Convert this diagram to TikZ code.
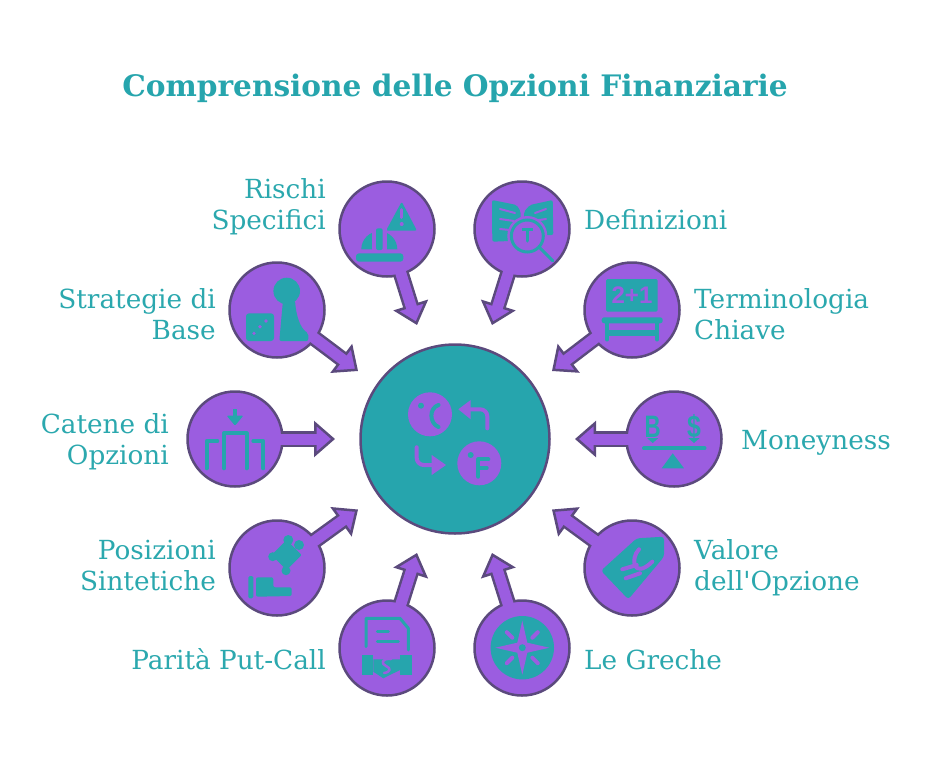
\documentclass[tikz,border=0pt]{standalone}
\usepackage{fontspec}
\setmainfont{DejaVu Serif}
\newfontfamily\iconfont{Liberation Sans}
\usetikzlibrary{positioning}
\usetikzlibrary{arrows.meta}
\definecolor{optpurple}{HTML}{9B5DE0}
\definecolor{optedge}{HTML}{5B4A7D}
\definecolor{optteal}{HTML}{26A5AD}
\definecolor{opttext}{HTML}{2BA8AE}
\tikzset{
    topic/.style={circle, draw=optedge, line width=2.5pt, fill=optpurple, minimum size=95pt, inner sep=0pt},
    hub/.style={circle, draw=optedge, line width=2.5pt, fill=optteal, minimum size=189pt, inner sep=0pt},
    lefttext/.style={anchor=east, align=right, inner sep=0pt, text=opttext, font=\fontsize{26.3}{31}\selectfont},
    righttext/.style={anchor=west, align=left, inner sep=0pt, text=opttext, font=\fontsize{26.3}{31}\selectfont},
    shaftouter/.style={draw=optedge, line width=16pt, shorten <=-2.5pt, -{Triangle[width=36pt,length=21pt,fill=optpurple,line width=2.5pt]}},
    shaftinner/.style={draw=optpurple, line width=11pt, shorten >=16pt},
    tealfill/.style={fill=optteal, draw=none},
    tealline/.style={draw=optteal, line width=4pt, line cap=round, line join=round},
    purplefill/.style={fill=optpurple, draw=none},
    purpleline/.style={draw=optpurple, line width=3.5pt, line cap=round, line join=round}
}
\begin{document}
\begin{tikzpicture}[x=1pt, y=-1pt]
    \useasboundingbox (0,0) rectangle (925,758);
    \node [text=optteal, font=\fontsize{29.6}{36}\bfseries\selectfont] (title) at (455,88) {Comprensione delle Opzioni Finanziarie};

    \node [hub] (hub) at (455,439) {};
    \node [topic] (rischi) at (387,229) {};
    \node [topic] (definizioni) at (522,229) {};
    \node [topic] (strategie) at (277,310) {};
    \node [topic] (terminologia) at (632,310) {};
    \node [topic] (catene) at (235,439) {};
    \node [topic] (moneyness) at (674,439) {};
    \node [topic] (posizioni) at (277,568) {};
    \node [topic] (valore) at (632,568) {};
    \node [topic] (parita) at (387,648) {};
    \node [topic] (greche) at (522,648) {};

    \coordinate (tipRischi) at (417,325);
    \coordinate (tipDefinizioni) at (492,325);
    \coordinate (tipStrategie) at (358,371);
    \coordinate (tipTerminologia) at (552,371);
    \coordinate (tipCatene) at (335,439);
    \coordinate (tipMoneyness) at (575,439);
    \coordinate (tipPosizioni) at (358,509.5);
    \coordinate (tipValore) at (552,509.5);
    \coordinate (tipParita) at (417,553);
    \coordinate (tipGreche) at (492,553);

    \foreach \from/\tip in {rischi/tipRischi, definizioni/tipDefinizioni, strategie/tipStrategie, terminologia/tipTerminologia, catene/tipCatene, moneyness/tipMoneyness, posizioni/tipPosizioni, valore/tipValore, parita/tipParita, greche/tipGreche}
    {
        \draw [shaftouter] (\from) -- (\tip);
        \draw [shaftinner] (\from.center) -- (\tip);
    }

    \node [lefttext] (rischiText) at (326,206.5) {Rischi\\Specifici};
    \node [righttext] (definizioniText) at (584,220) {Definizioni};
    \node [lefttext] (strategieText) at (216,314.5) {Strategie di\\Base};
    \node [righttext] (terminologiaText) at (694,314.5) {Terminologia\\Chiave};
    \node [lefttext] (cateneText) at (169,442) {Catene di\\Opzioni};
    \node [righttext] (moneynessText) at (741,442.5) {Moneyness};
    \node [lefttext] (posizioniText) at (216,565) {Posizioni\\Sintetiche};
    \node [righttext] (valoreText) at (694,568) {Valore\\dell\textquotesingle Opzione};
    \node [lefttext] (paritaText) at (326,659.5) {Parità Put-Call};
    \node [righttext] (grecheText) at (584,660) {Le Greche};

    % hub icon
    \fill [purplefill] (430,414.3) circle (22);
    \fill [purplefill] (479.3,463.3) circle (22);
    \fill [tealfill] (421,405.7) circle (3);
    \fill [tealfill] (470.7,455) circle (3);
    \draw [tealline] (438.5,405) .. controls (429,408) and (429,423) .. (438.5,427);
    \draw [tealline] (488.3,459.3) -- (478.3,459.3) -- (478.3,476.7);
    \draw [tealline] (478.3,468) -- (486.7,468);
    \draw [purpleline, line width=4pt, rounded corners=7pt] (487.3,428.3) -- (487.3,409.3) -- (468,409.3);
    \fill [purplefill] (458.3,409.3) -- (470.7,400) -- (470.7,419.3) -- cycle;
    \draw [purpleline, line width=4pt, rounded corners=7pt] (416.7,447.3) -- (416.7,465) -- (436,465);
    \fill [purplefill] (446,465) -- (431.7,455) -- (431.7,475) -- cycle;

    % rischi icon
    \fill [tealfill, rounded corners=2pt] (401.7,201.7) -- (417,230.7) -- (386,230.7) -- cycle;
    \draw [purpleline, line width=3pt] (401.7,209.5) -- (401.7,217.5);
    \fill [purplefill] (401.7,224) circle (2);
    \fill [tealfill] (361.3,249.3) arc (180:360:18) -- cycle;
    \fill [purplefill] (371.7,228) rectangle (387.3,250);
    \fill [tealfill, rounded corners=2pt] (376,228.3) rectangle (382.7,250);
    \fill [tealfill, rounded corners=3pt] (356,253.3) rectangle (403.3,261.7);

    % definizioni icon
    \fill [tealfill, rounded corners=2pt] (492,200) -- (516.7,205) -- (520.7,211.7) -- (520.7,235) -- (510,241) -- (492.3,241.7) -- cycle;
    \fill [tealfill, rounded corners=2pt] (524,211.7) -- (530,205) -- (552.7,200) -- (553.3,235) -- (524,235) -- cycle;
    \draw [purpleline, line width=2pt] (500,209) -- (515,213);
    \draw [purpleline, line width=2pt] (500,219) -- (514,221);
    \draw [purpleline, line width=2pt] (500,229) -- (510,230);
    \draw [purpleline, line width=2pt] (535,213) -- (546,209);
    \draw [purpleline, line width=2pt] (533,221) -- (546,219);
    \fill [purplefill] (527.3,236) circle (20);
    \draw [draw=optteal, line width=3pt] (527.3,236) circle (16);
    \draw [tealline, line width=3pt, line cap=butt] (521.7,229.5) -- (533.3,229.5);
    \draw [tealline, line width=3pt] (527.3,229.5) -- (527.3,241);
    \draw [tealline, line width=3pt] (539,247) -- (552.7,260.7);

    % strategie icon
    \fill [tealfill, rounded corners=3pt] (246,313.3) rectangle (274,341);
    \fill [purplefill] (266,321) circle (1.8);
    \fill [purplefill] (260,326.7) circle (1.8);
    \fill [purplefill] (254,333.3) circle (1.8);
    \fill [tealfill] (286.7,291) circle (13.3);
    \fill [tealfill, rounded corners=2pt] (283,300) -- (279.3,341) -- (308.3,341) -- (308.3,333.3) .. controls (300,328) and (296,315) .. (295,300) -- cycle;

    % catene icon
    \draw [tealline, line width=4.5pt, line cap=butt] (235,409) -- (235,418);
    \fill [tealfill, rounded corners=1pt] (226.7,415.7) -- (243.3,415.7) -- (235,425.7) -- cycle;
    \draw [tealline] (224,468.3) -- (224,433.3) -- (246.7,433.3) -- (246.7,468.3);
    \draw [tealline] (206.7,468.3) -- (206.7,441) -- (217.3,441);
    \draw [tealline] (263.3,468.3) -- (263.3,441) -- (253.3,441);

    % terminologia icon
    \fill [tealfill, rounded corners=1.5pt] (606,279) rectangle (657.7,311.7);
    \node [text=optpurple, font=\iconfont\fontsize{24}{24}\bfseries\selectfont, inner sep=0pt] (sumText) at (632,295.5) {2+1};
    \fill [tealfill, rounded corners=2.5pt] (601.7,317.3) rectangle (662.7,323.3);
    \draw [tealline] (607.3,323) -- (607.3,339.5);
    \draw [tealline] (657.3,323) -- (657.3,339.5);
    \draw [tealline, line cap=butt, line width=6pt] (607,333) -- (657,333);

    % moneyness icon
    \node [text=optteal, font=\iconfont\fontsize{31}{31}\bfseries\selectfont, inner sep=0pt, xscale=0.72] (bitText) at (652.7,427) {B};
    \node [text=optteal, font=\iconfont\fontsize{31}{31}\bfseries\selectfont, inner sep=0pt, xscale=0.8] (dollarText) at (694,427) {\$};
    \fill [tealfill] (647,438) -- (658.4,438) -- (652.7,443) -- cycle;
    \fill [tealfill] (688.3,438) -- (699.7,438) -- (694,443) -- cycle;
    \draw [tealline] (644,448.3) -- (704.5,448.3);
    \fill [tealfill] (672.7,453.3) -- (684,468.3) -- (661.7,468.3) -- cycle;

    % valore icon
    \fill [tealfill, rounded corners=3pt] (664,536.7) -- (664,556.7) -- (628.3,599.3) -- (601,570.7) -- (636.7,538.3) -- cycle;
    \draw [purpleline, line width=4pt] (639,549.3) .. controls (630,558.3) and (633.3,580) .. (652.3,561.7);
    \draw [purpleline, line width=4pt] (622.3,569.3) -- (636.7,565);
    \draw [purpleline, line width=4pt] (625.7,578.3) -- (640,573.3);

    % greche icon
    \fill [tealfill] (522.3,647.7) circle (31.7);
    \fill [purplefill] (522.3,620.7) -- (527.3,642.7) -- (549.3,647.7) -- (527.3,652.7) -- (522.3,674.7) -- (517.3,652.7) -- (495.3,647.7) -- (517.3,642.7) -- cycle;
    \fill [tealfill] (522.3,647.7) circle (3.5);
    \foreach \dx/\dy in {1/1, 1/-1, -1/1, -1/-1}
    {
        \draw [purpleline, line width=4pt] (522.3+10*\dx,647.7+10*\dy) -- (522.3+15.5*\dx,647.7+15.5*\dy);
    }

    % posizioni icon
    \fill [tealfill, rounded corners=1pt] (286.7,540) -- (301.7,555) -- (286.7,570) -- (271.7,555) -- cycle;
    \fill [tealfill] (299,545) circle (5);
    \fill [tealfill] (288.3,540) circle (5);
    \fill [tealfill] (272.7,556.7) circle (4.5);
    \fill [tealfill] (286,570.7) circle (4.5);
    \fill [tealfill, rounded corners=1.5pt] (248.3,576) rectangle (253.3,598.3);
    \fill [tealfill, rounded corners=2pt] (256,577.3) -- (273.3,577.3) -- (273.3,587.3) -- (291.7,587.3) -- (291.7,596) -- (256,596.7) -- cycle;

    % parita icon
    \draw [tealline, line width=3pt] (366,646.7) -- (366,618.3) -- (400,618.3) -- (408.3,628.3) -- (408.3,650);
    \draw [tealline, line width=3pt] (377.3,631) -- (388.3,631);
    \draw [tealline, line width=3pt] (377.3,641.7) -- (398.3,641.7);
    \fill [tealfill] (361.7,655) rectangle (373.3,675);
    \fill [tealfill] (400,655) rectangle (412.3,675);
    \fill [tealfill] (373.3,659.3) -- (400,659.3) -- (400,670) -- (383.3,678.3) -- (373.3,671.7) -- cycle;
    \draw [purpleline, line width=2.5pt] (391,659) .. controls (381,658) and (381,664) .. (386,666) .. controls (391,668) and (391,672) .. (384,673);
\end{tikzpicture}
\end{document}
